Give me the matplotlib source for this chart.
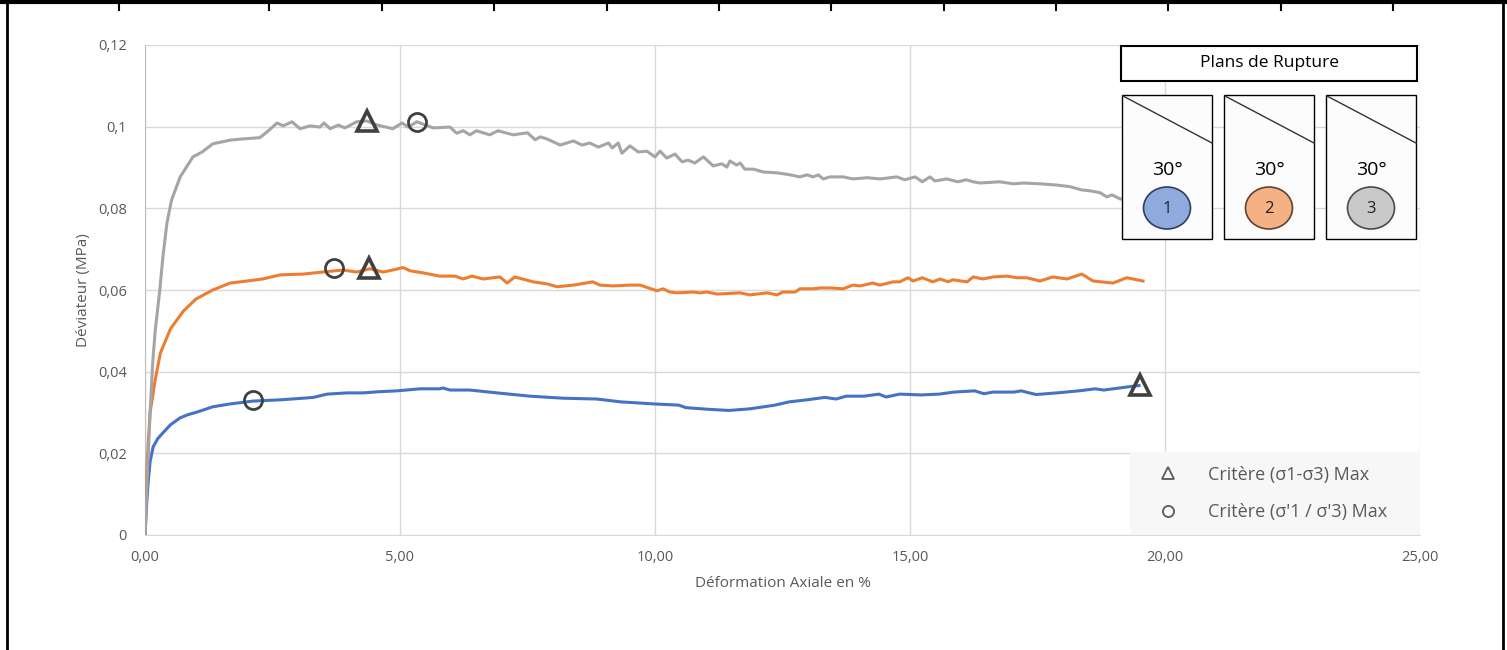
import matplotlib
matplotlib.use("Agg")
import matplotlib.pyplot as plt
from matplotlib.lines import Line2D
from matplotlib.patches import Rectangle, Ellipse

plt.rcParams['font.family'] = ['Open Sans', 'DejaVu Sans']

# axis ticks
xticks = [0, 5, 10, 15, 20, 25]
xtick_labels = ['0,00', '5,00', '10,00', '15,00', '20,00', '25,00']
yticks = [0, 0.02, 0.04, 0.06, 0.08, 0.10, 0.12]
ytick_labels = ['0', '0,02', '0,04', '0,06', '0,08', '0,1', '0,12']

# essai 1 (bleu)
strain_1 = [0, 0.03, 0.06, 0.1, 0.16, 0.25, 0.35, 0.5, 0.69, 0.85,
            1.02, 1.33, 1.67, 2.12, 2.65, 3.1, 3.3, 3.57, 3.96, 4.27,
            4.6, 4.94, 5.39, 5.78, 5.84, 5.98, 6.37, 6.9, 7.55, 8.2,
            8.86, 9.33, 9.98, 10.47, 10.6, 11.02, 11.45, 11.86, 12.35, 12.63,
            12.98, 13.33, 13.55, 13.75, 14.1, 14.39, 14.53, 14.8, 15.22, 15.57,
            15.86, 16.27, 16.45, 16.63, 17.04, 17.18, 17.47, 17.88, 18.31, 18.63,
            18.8, 19.29, 19.49]
dev_1 = [0, 0.007, 0.0127, 0.018, 0.0216, 0.0236, 0.025, 0.027, 0.0287, 0.0295,
         0.0301, 0.0314, 0.0321, 0.0328, 0.0331, 0.0335, 0.0337, 0.0345, 0.0348, 0.0348,
         0.0351, 0.0353, 0.0358, 0.0358, 0.036, 0.0355, 0.0355, 0.0348, 0.034, 0.0335,
         0.0333, 0.0326, 0.0321, 0.0318, 0.0312, 0.0308, 0.0305, 0.0309, 0.0318, 0.0326,
         0.0331, 0.0337, 0.0333, 0.034, 0.034, 0.0345, 0.0338, 0.0345, 0.0343, 0.0345,
         0.035, 0.0353, 0.0346, 0.035, 0.035, 0.0353, 0.0344, 0.0348, 0.0353, 0.0358,
         0.0355, 0.0363, 0.0366]

# essai 2 (orange)
strain_2 = [0, 0.03, 0.06, 0.1, 0.2, 0.3, 0.5, 0.75, 1.0, 1.33,
            1.67, 2.0, 2.31, 2.65, 3.1, 3.49, 3.88, 4.15, 4.41, 4.67,
            4.86, 5.06, 5.2, 5.45, 5.78, 6.08, 6.24, 6.41, 6.63, 6.96,
            7.1, 7.25, 7.61, 7.88, 8.08, 8.4, 8.78, 8.92, 9.18, 9.51,
            9.71, 10.04, 10.16, 10.29, 10.43, 10.75, 10.88, 11.02, 11.22, 11.67,
            11.86, 12.2, 12.39, 12.51, 12.75, 12.84, 13.1, 13.24, 13.43, 13.69,
            13.88, 14.02, 14.27, 14.41, 14.67, 14.8, 14.96, 15.06, 15.24, 15.45,
            15.59, 15.75, 15.84, 16.12, 16.24, 16.43, 16.63, 16.9, 17.1, 17.29,
            17.55, 17.8, 18.08, 18.2, 18.37, 18.59, 18.98, 19.25, 19.57]
dev_2 = [0, 0.014, 0.022, 0.03, 0.038, 0.0445, 0.0505, 0.0548, 0.0578, 0.06,
         0.0617, 0.0622, 0.0627, 0.0637, 0.0639, 0.0644, 0.0649, 0.0644, 0.0652, 0.0644,
         0.0649, 0.0655, 0.0647, 0.0642, 0.0634, 0.0634, 0.0627, 0.0634, 0.0627, 0.0632,
         0.0617, 0.0632, 0.062, 0.0615, 0.0608, 0.0612, 0.062, 0.0612, 0.061, 0.0612,
         0.0612, 0.0598, 0.0603, 0.0595, 0.0593, 0.0595, 0.0593, 0.0595, 0.059, 0.0593,
         0.0588, 0.0593, 0.0588, 0.0595, 0.0595, 0.0603, 0.0603, 0.0605, 0.0605, 0.0603,
         0.0612, 0.061, 0.0617, 0.0612, 0.062, 0.062, 0.063, 0.0622, 0.063, 0.062,
         0.0627, 0.062, 0.0625, 0.062, 0.0632, 0.0627, 0.0632, 0.0634, 0.063, 0.063,
         0.0622, 0.0632, 0.0627, 0.0632, 0.0639, 0.0622, 0.0617, 0.063, 0.0622]

# essai 3 (gris)
strain_3 = [0, 0.05, 0.1, 0.15, 0.2, 0.29, 0.35, 0.43, 0.52, 0.69,
            0.94, 1.12, 1.33, 1.67, 1.92, 2.25, 2.39, 2.59, 2.71, 2.88,
            3.04, 3.24, 3.43, 3.51, 3.63, 3.79, 3.92, 4.15, 4.35, 4.55,
            4.86, 5.04, 5.16, 5.33, 5.65, 5.98, 6.11, 6.24, 6.37, 6.5,
            6.76, 6.92, 7.22, 7.5, 7.65, 7.75, 7.88, 8.14, 8.4, 8.57,
            8.72, 8.89, 9.09, 9.16, 9.28, 9.35, 9.51, 9.67, 9.84, 10.0,
            10.1, 10.23, 10.39, 10.53, 10.65, 10.78, 10.95, 11.14, 11.31, 11.41,
            11.47, 11.6, 11.67, 11.76, 11.93, 12.12, 12.39, 12.65, 12.84, 12.98,
            13.1, 13.2, 13.3, 13.43, 13.69, 13.88, 14.16, 14.41, 14.74, 14.9,
            15.1, 15.24, 15.39, 15.49, 15.72, 15.94, 16.1, 16.24, 16.37, 16.76,
            17.03, 17.22, 17.55, 17.88, 18.14, 18.37, 18.53, 18.73, 18.86, 18.96,
            19.12, 19.5]
dev_3 = [0, 0.016, 0.03, 0.042, 0.05, 0.06, 0.068, 0.0764, 0.082, 0.0877,
         0.0926, 0.0938, 0.0958, 0.0967, 0.097, 0.0973, 0.0987, 0.1009, 0.1002, 0.1012,
         0.0995, 0.1002, 0.0999, 0.1009, 0.0995, 0.1004, 0.0997, 0.1012, 0.1014, 0.1004,
         0.0995, 0.1009, 0.0999, 0.1012, 0.0997, 0.0999, 0.0984, 0.099, 0.098, 0.099,
         0.098, 0.099, 0.098, 0.0985, 0.0968, 0.0975, 0.097, 0.0955, 0.0965, 0.0955,
         0.096, 0.095, 0.096, 0.0948, 0.096, 0.0935, 0.0953, 0.0938, 0.094, 0.0926,
         0.094, 0.0923, 0.0933, 0.0914, 0.0918, 0.0911, 0.0926, 0.0904, 0.0909, 0.0901,
         0.0916, 0.0906, 0.0911, 0.0896, 0.0896, 0.0889, 0.0887, 0.0882, 0.0877, 0.0882,
         0.0877, 0.0882, 0.0872, 0.0877, 0.0877, 0.0872, 0.0875, 0.0872, 0.0877, 0.087,
         0.0877, 0.0865, 0.0877, 0.0867, 0.0872, 0.0865, 0.087, 0.0865, 0.0862, 0.0865,
         0.086, 0.0862, 0.086, 0.0857, 0.0853, 0.0845, 0.0843, 0.0838, 0.0828, 0.0833,
         0.0823, 0.0815]

# points de rupture selon les deux criteres
max_dev_x = [19.5, 4.4, 4.35]
max_dev_y = [0.0368, 0.0655, 0.1014]
max_ratio_x = [2.12, 3.7, 5.33]
max_ratio_y = [0.0331, 0.0653, 0.1012]

legend_labels = ['Critère (σ1-σ3) Max', "Critère (σ'1 / σ'3) Max"]
plan_angles = ['30°', '30°', '30°']
plan_ids = ['1', '2', '3']

colors = ['#4472C4', '#ED7D31', '#A5A5A5']
plan_fill = ['#8FAADC', '#F4B183', '#C9C9C9']
plan_edge = ['#2F3F5F', '#5E4332', '#4A4A4A']
mark_col = '#404040'
txt_col = '#595959'

W, H = 1507, 650


def fx(x):
    return x / W


def fy(y):
    return 1 - y / H


fig = plt.figure(figsize=(W / 100, H / 100), dpi=100)
ax = fig.add_axes([fx(145), fy(535), (1420 - 145) / W, (535 - 45) / H])

ax.plot(strain_1, dev_1, color=colors[0], lw=2.2, zorder=3)
ax.plot(strain_2, dev_2, color=colors[1], lw=2.2, zorder=3)
ax.plot(strain_3, dev_3, color=colors[2], lw=2.2, zorder=3)
ax.plot(max_dev_x, max_dev_y, ls='none', marker='^', ms=14, mfc='none',
        mec=mark_col, mew=2.6, zorder=4)
ax.plot(max_ratio_x, max_ratio_y, ls='none', marker='o', ms=13, mfc='none',
        mec=mark_col, mew=2.0, zorder=4)

ax.set_xlim(0, 25)
ax.set_ylim(0, 0.12)
ax.set_xticks(xticks)
ax.set_xticklabels(xtick_labels)
ax.set_yticks(yticks)
ax.set_yticklabels(ytick_labels)
ax.tick_params(axis='both', length=0, labelsize=10.5, labelcolor=txt_col)
ax.tick_params(axis='y', pad=13)
ax.tick_params(axis='x', pad=11)
ax.grid(True, color='#D9D9D9', lw=1)
ax.set_axisbelow(True)
for s in ['top', 'right']:
    ax.spines[s].set_visible(False)
ax.spines['left'].set_color('#BFBFBF')
ax.spines['bottom'].set_color('#D9D9D9')
ax.set_xlabel('Déformation Axiale en %', fontsize=11, color=txt_col, labelpad=8)
ax.set_ylabel('Déviateur (MPa)', fontsize=11, color=txt_col, labelpad=5)

handles = [
    Line2D([], [], ls='none', marker='^', ms=8, mfc='none', mec=txt_col, mew=1.3),
    Line2D([], [], ls='none', marker='o', ms=8, mfc='none', mec=txt_col, mew=1.3),
]
leg = ax.legend(handles, legend_labels, loc='lower left',
                bbox_to_anchor=(0.7725, 0, 0.2275, 0.17), mode='expand',
                borderaxespad=0, fontsize=13, labelcolor=txt_col, fancybox=False,
                facecolor='#F7F7F7', edgecolor='none', framealpha=1,
                handlelength=2.7, handletextpad=0.9, borderpad=0.75, labelspacing=1.1)

# encart "Plans de Rupture"
fig.add_artist(Rectangle((fx(1121), fy(81)), (1417 - 1121) / W, (81 - 46) / H,
                         transform=fig.transFigure, fc='white', ec='black', lw=1.5))
fig.text(fx(1269), fy(63), 'Plans de Rupture', ha='center', va='center',
         fontsize=12.5, color='black')
for i, left in enumerate([1122, 1224, 1326]):
    fig.add_artist(Rectangle((fx(left), fy(239)), 90 / W, (239 - 95) / H,
                             transform=fig.transFigure, fc='#FCFCFC', ec='black', lw=1))
    fig.add_artist(Line2D([fx(left + 1), fx(left + 90)], [fy(96), fy(143)],
                          transform=fig.transFigure, color='#333333', lw=1))
    fig.text(fx(left + 45), fy(170), plan_angles[i], ha='center', va='center',
             fontsize=14, color='black')
    fig.add_artist(Ellipse((fx(left + 45), fy(208)), 47 / W, 42 / H,
                           transform=fig.transFigure, fc=plan_fill[i],
                           ec=plan_edge[i], lw=1.2))
    fig.text(fx(left + 45), fy(209), plan_ids[i], ha='center', va='center',
             fontsize=12, color='#222222')

# cadre du tableau
fig.add_artist(Line2D([0, 1], [fy(2), fy(2)], transform=fig.transFigure, color='black', lw=3))
fig.add_artist(Line2D([fx(7), fx(7)], [0, fy(1)], transform=fig.transFigure, color='black', lw=2))
fig.add_artist(Line2D([fx(1503), fx(1503)], [0, fy(1)], transform=fig.transFigure, color='black', lw=2))
for x in [119, 269, 382, 494, 607, 719, 831, 944, 1056, 1168, 1281, 1393]:
    fig.add_artist(Line2D([fx(x), fx(x)], [fy(2), fy(10)], transform=fig.transFigure,
                          color='black', lw=1.5))

fig.savefig('out.png', dpi=100)
